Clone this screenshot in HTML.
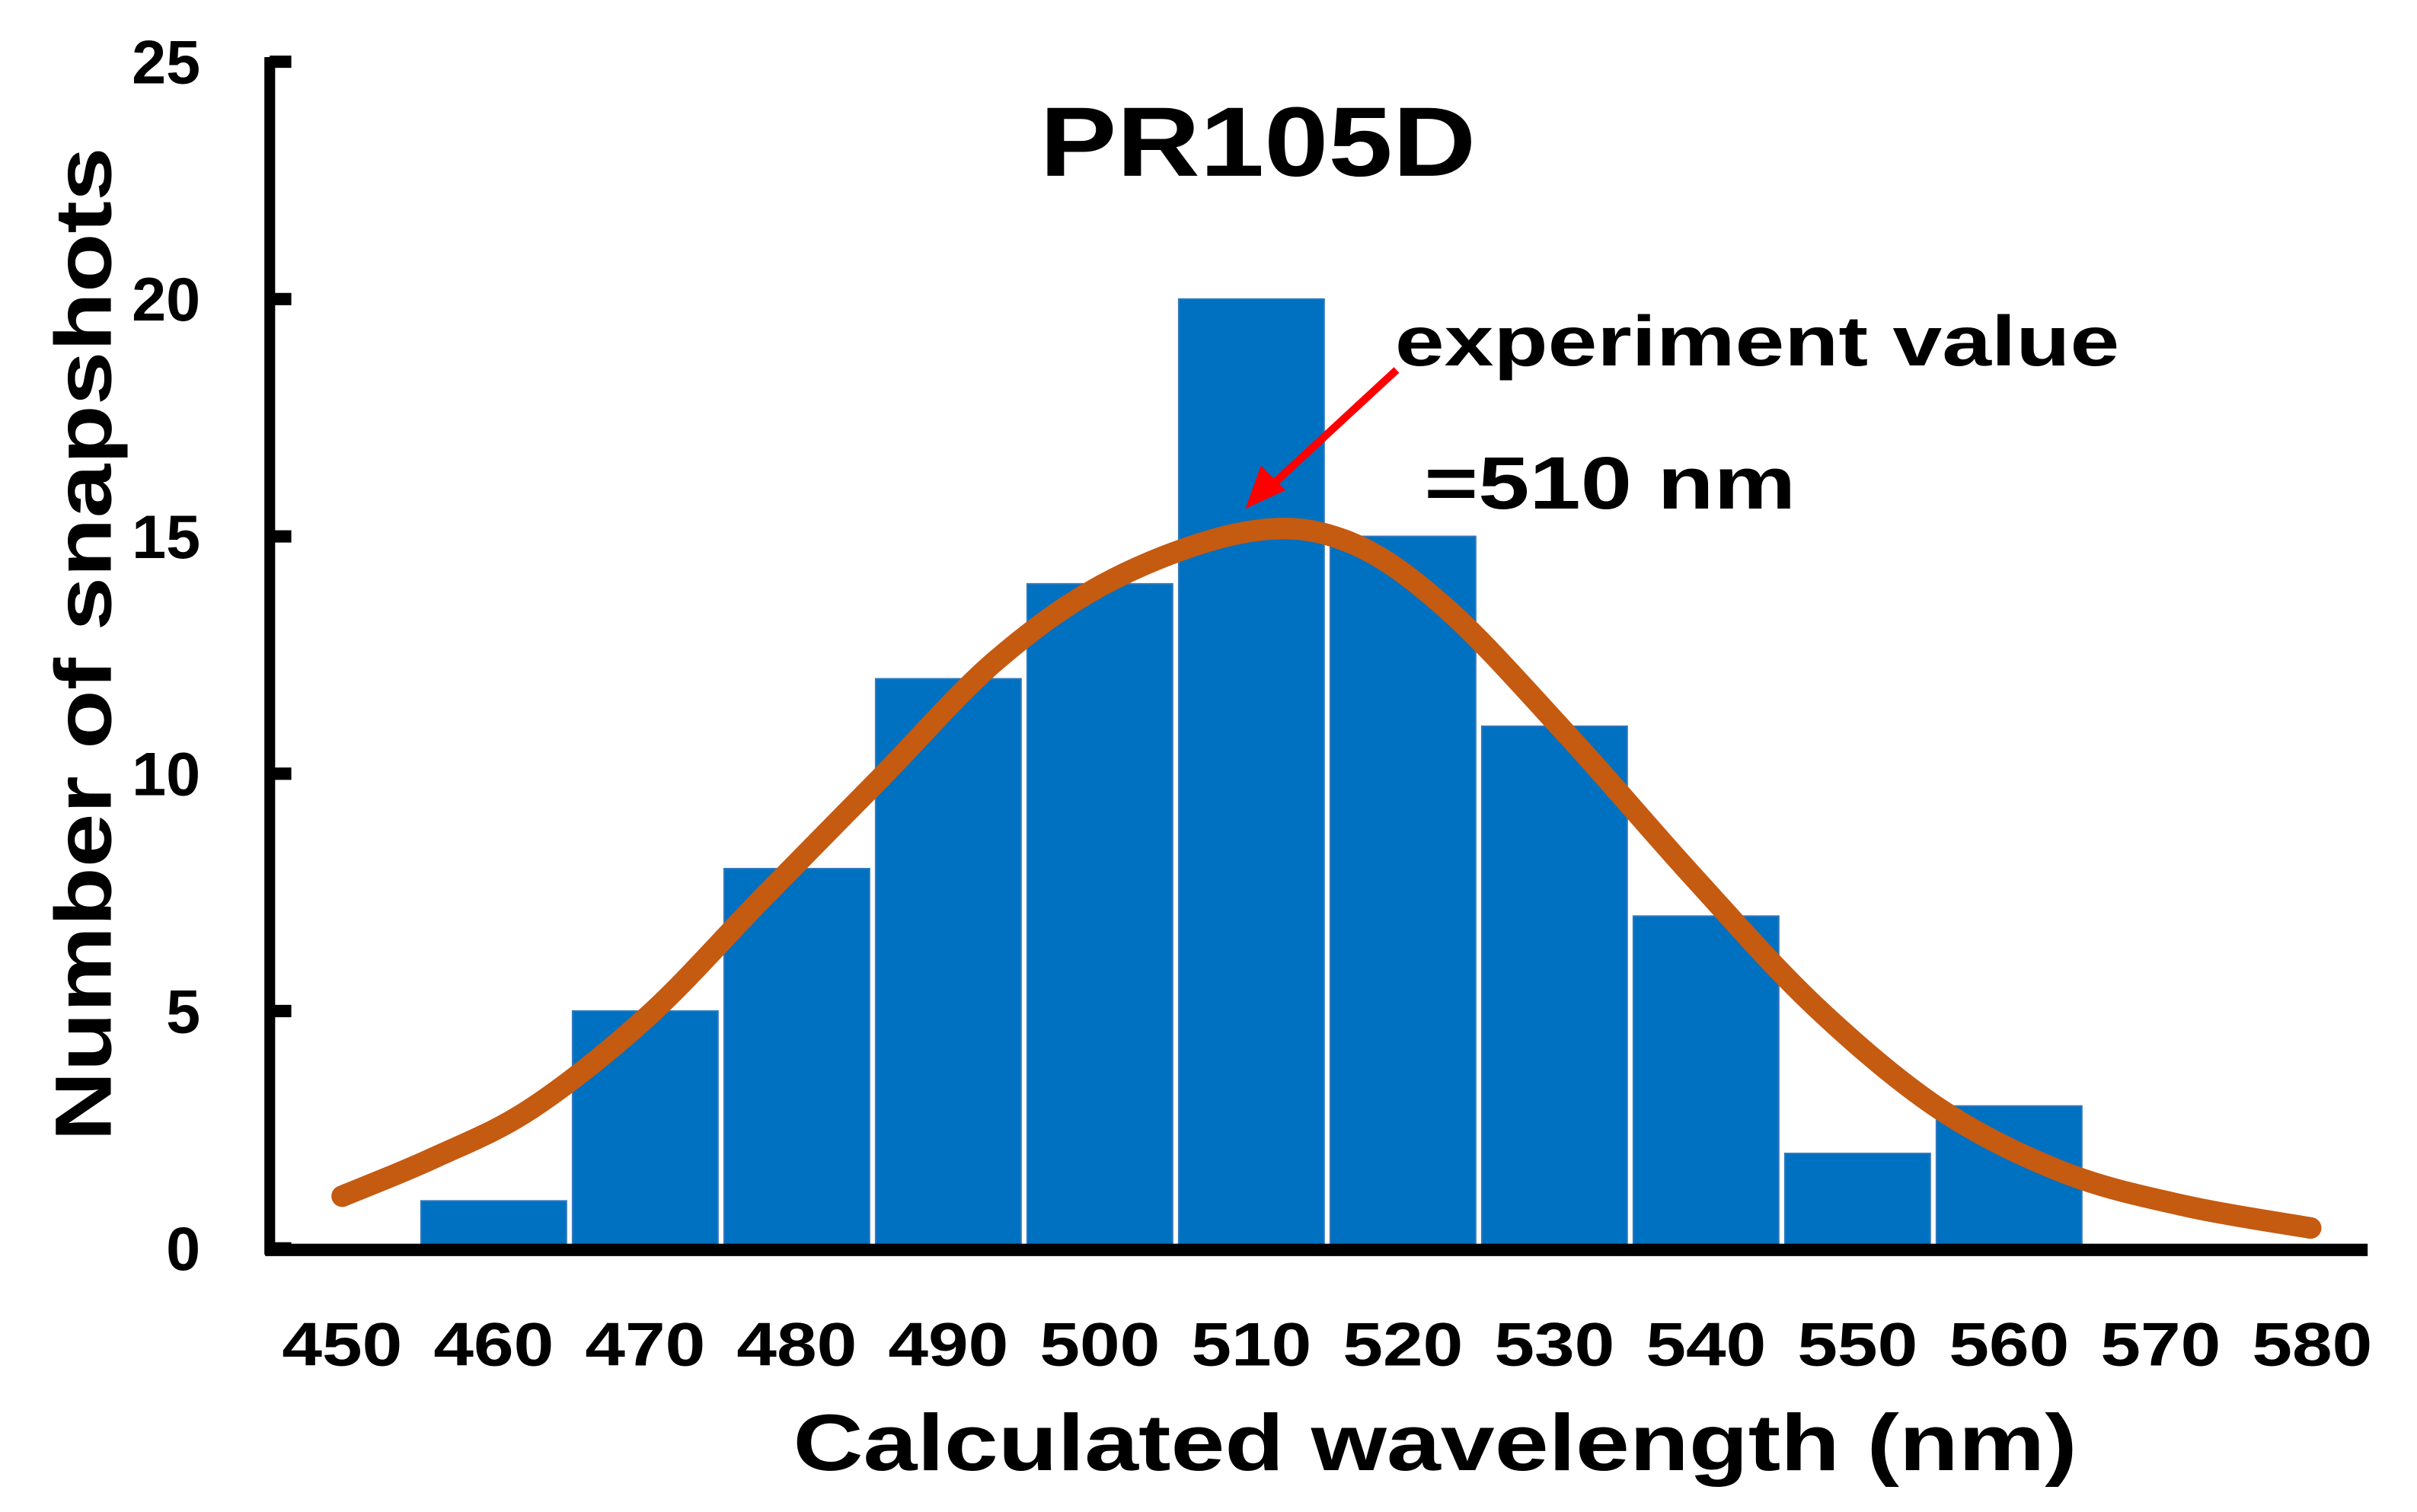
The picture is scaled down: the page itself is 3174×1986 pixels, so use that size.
<!DOCTYPE html>
<html><head><meta charset="utf-8">
<style>
html,body{margin:0;padding:0;background:#fff;}
svg{display:block;}
text{font-family:"Liberation Sans",sans-serif;font-weight:bold;fill:#000;}
</style></head>
<body>
<svg id="chart" width="3174" height="1986" viewBox="0 0 1568 981" xmlns="http://www.w3.org/2000/svg">
<g id="bars"></g>
<g id="curve"></g>
<g id="axes"></g>
<text x="816" y="114" font-size="64" text-anchor="middle" textLength="283" lengthAdjust="spacingAndGlyphs">PR105D</text>
<text transform="translate(72,418) rotate(-90)" font-size="52" text-anchor="middle" textLength="645" lengthAdjust="spacingAndGlyphs">Number of snapshots</text>
<text x="931" y="954" font-size="52" text-anchor="middle" textLength="833" lengthAdjust="spacingAndGlyphs">Calculated wavelength (nm)</text>
<text x="905" y="237" font-size="46" textLength="470" lengthAdjust="spacingAndGlyphs">experiment value</text>
<text x="924" y="330" font-size="48" textLength="241" lengthAdjust="spacingAndGlyphs">=510 nm</text>
<g>
<line x1="906" y1="240" x2="826" y2="314" stroke="#ff0000" stroke-width="5"/>
<polygon points="808,330 818,302 834,318" fill="#ff0000"/>
</g>
</svg>
<script>
const categories=[460,470,480,490,500,510,520,530,540,550,560];
const counts=[1,5,8,12,14,20,15,11,7,2,3];
const curveX=[450,456,462.5,470.2,477.8,485.5,493.2,500.9,509.8,516.3,522.8,530.9,539.1,547.2,555.4,563.6,571.7,579.9];
const curveY=[1.1,1.9,2.95,4.9,7.4,9.9,12.4,14.1,15.1,14.9,13.5,10.8,7.85,5.1,2.94,1.6,0.89,0.43];
const xTicks=[450,460,470,480,490,500,510,520,530,540,550,560,570,580];
const yTicks=[0,5,10,15,20,25];

const NS="http://www.w3.org/2000/svg";
function xs(v){return 222+(v-450)*(1500-222)/130;}
function ys(v){return 810-v*(810-40)/25;}
function mk(tag,attrs,parent){const e=document.createElementNS(NS,tag);for(const k in attrs)e.setAttribute(k,attrs[k]);parent.appendChild(e);return e;}

const barsG=document.getElementById('bars');
const bw=(xs(470)-xs(460));
categories.forEach((c,i)=>{
  const r=mk('rect',{x:xs(c)-bw/2+2,y:ys(counts[i]),width:bw-4,height:ys(0)-ys(counts[i]),fill:'#0070C0',stroke:'#2f78be','stroke-width':1},barsG);
  
  
});

const pts=curveX.map((x,i)=>[xs(x),ys(curveY[i])]);
let d='M'+pts[0][0]+','+pts[0][1];
for(let i=0;i<pts.length-1;i++){
  const p0=pts[Math.max(0,i-1)],p1=pts[i],p2=pts[i+1],p3=pts[Math.min(pts.length-1,i+2)];
  const c1=[p1[0]+(p2[0]-p0[0])/6,p1[1]+(p2[1]-p0[1])/6];
  const c2=[p2[0]-(p3[0]-p1[0])/6,p2[1]-(p3[1]-p1[1])/6];
  d+=' C'+c1[0]+','+c1[1]+' '+c2[0]+','+c2[1]+' '+p2[0]+','+p2[1];
}
const path=mk('path',{d:d,fill:'none',stroke:'#C55A11','stroke-width':14,'stroke-linecap':'round','stroke-linejoin':'round'},document.getElementById('curve'));



const ax=document.getElementById('axes');
const ya=mk('line',{x1:175,y1:ys(25)-3,x2:175,y2:ys(0)+4,stroke:'#000','stroke-width':7},ax);


const xa=mk('line',{x1:172,y1:ys(0)+1,x2:1536,y2:ys(0)+1,stroke:'#000','stroke-width':8},ax);


yTicks.forEach(t=>{
  const tk=mk('line',{x1:175,y1:ys(t),x2:189,y2:ys(t),stroke:'#000','stroke-width':8},ax);
  
  
  const tl=mk('text',{x:130,y:ys(t)+14,'font-size':40,'text-anchor':'end'},ax);
  tl.textContent=String(t);
  
  
});
xTicks.forEach(t=>{
  const tl=mk('text',{x:xs(t),y:886,'font-size':40,'text-anchor':'middle',textLength:78,lengthAdjust:'spacingAndGlyphs'},ax);
  tl.textContent=String(t);
  
  
});
</script>
</body></html>
